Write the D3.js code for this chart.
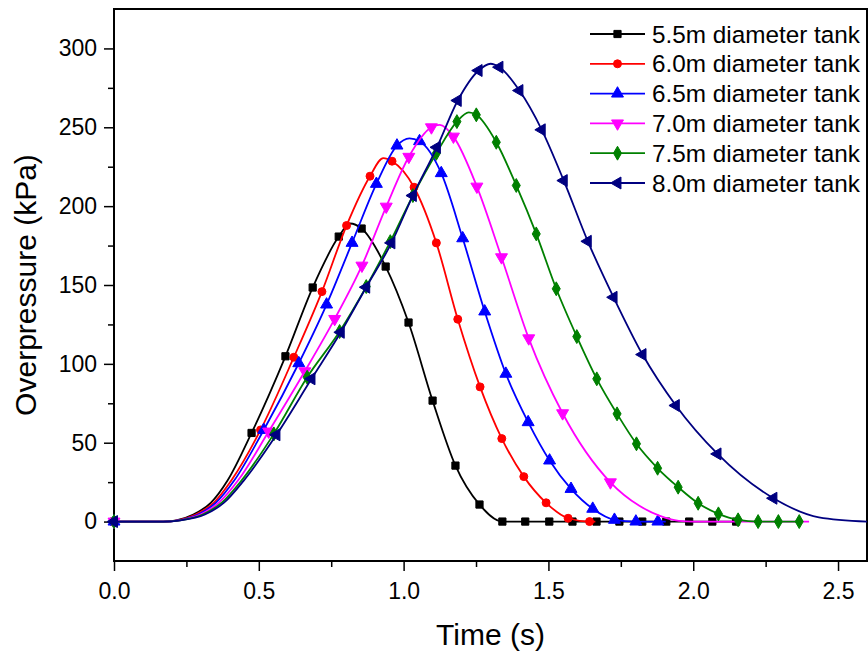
<!DOCTYPE html>
<html>
<head>
<meta charset="utf-8">
<script src="https://cdn.jsdelivr.net/npm/d3@7"></script>
<style>
  body { margin: 0; background: #fff; }
  text { font-family: Arial, "Liberation Sans", sans-serif; fill: #000; }
</style>
</head>
<body>
<svg id="chart" width="868" height="654"></svg>
<script>
// Datos: tiempo (s) y sobrepresión (kPa) en cada marcador
const t55 = [0, 0.475, 0.592, 0.686, 0.776, 0.855, 0.938, 1.017, 1.100, 1.179, 1.262, 1.341, 1.420, 1.503, 1.583, 1.666, 1.745, 1.824, 1.907, 1.986, 2.066, 2.148];
const p55 = [0, 56.2, 104.8, 148.4, 180.7, 185.8, 161.7, 126.2, 76.7, 35.5, 10.8, 0, 0, 0, 0, 0, 0, 0, 0, 0, 0, 0];
const t60 = [0, 0.506, 0.621, 0.718, 0.803, 0.884, 0.960, 1.036, 1.113, 1.187, 1.264, 1.339, 1.415, 1.492, 1.568, 1.642];
const p60 = [0, 58.1, 104.2, 145.8, 187.7, 219, 228.5, 212, 176.7, 128.3, 85.4, 52.6, 28.5, 11.9, 2.1, 0];
const t65 = [0, 0.517, 0.638, 0.734, 0.822, 0.906, 0.977, 1.055, 1.130, 1.204, 1.280, 1.353, 1.430, 1.504, 1.578, 1.653, 1.728, 1.802, 1.878];
const p65 = [0, 58.1, 100.4, 137.6, 176.7, 214.1, 238.4, 241.2, 220.9, 179.6, 133.2, 93.7, 63, 38.7, 20.7, 8.1, 1.1, 0, 0];
const t70 = [0, 0.534, 0.659, 0.762, 0.856, 0.940, 1.018, 1.096, 1.172, 1.253, 1.338, 1.432, 1.549, 1.714];
const p70 = [0, 57.1, 95.3, 128.5, 162.3, 199.7, 231.3, 250, 244.1, 212.4, 167.6, 116.2, 68.7, 24.9];
const t75 = [0, 0.552, 0.667, 0.779, 0.871, 0.954, 1.032, 1.113, 1.184, 1.251, 1.320, 1.389, 1.458, 1.527, 1.598, 1.667, 1.737, 1.804, 1.877, 1.948, 2.017, 2.087, 2.155, 2.224, 2.294, 2.366];
const p75 = [0, 55.6, 91.5, 120.5, 149, 177.5, 206.7, 233.5, 253.6, 257.9, 240.5, 213.1, 182.4, 147.6, 117.3, 90.5, 68.3, 49.3, 33.8, 21.8, 11.6, 4.9, 1.1, 0, 0, 0];
const t80 = [0, 0.561, 0.682, 0.783, 0.871, 0.958, 1.032, 1.115, 1.187, 1.259, 1.331, 1.400, 1.477, 1.553, 1.636, 1.725, 1.825, 1.940, 2.084, 2.277];
const p80 = [0, 55, 90.5, 120, 148.6, 176.7, 206.7, 237.3, 267, 286, 288.1, 273.3, 248.4, 216.2, 177.7, 142.2, 105.9, 73.6, 42.9, 14.8];

// Puntos extra de la curva (sin marcador): arranque, pico y cola
const curva55 = [[0.17, 0], [0.215, 0.8], [0.274, 4.5], [0.335, 12], [0.392, 26], [0.815, 189]];
const curva60 = [[0.17, 0], [0.22, 0.8], [0.282, 4.5], [0.345, 12], [0.405, 26], [0.93, 230.5], [1.662, 0]];
const curva65 = [[0.17, 0], [0.222, 0.8], [0.29, 4.5], [0.352, 12], [0.415, 26], [1.02, 243], [1.905, 0]];
const curva70 = [[0.17, 0], [0.225, 0.8], [0.298, 4.5], [0.362, 12], [0.428, 26], [1.125, 251.5], [1.814, 10], [1.883, 3.8], [1.95, 0.5], [2.0, 0], [2.40, 0]];
const curva75 = [[0.17, 0], [0.228, 0.8], [0.306, 4.5], [0.372, 12], [0.44, 26], [1.225, 259.5]];
const curva80 = [[0.17, 0], [0.23, 0.8], [0.314, 4.5], [0.38, 12], [0.448, 26], [1.30, 290.3], [2.434, 2.7], [2.6, 0]];

const nombres = ["5.5m diameter tank", "6.0m diameter tank", "6.5m diameter tank",
                 "7.0m diameter tank", "7.5m diameter tank", "8.0m diameter tank"];
const colores = ["#000000", "#ff0000", "#0000ff", "#ff00ff", "#008000", "#000080"];

const yTicks = [0, 50, 100, 150, 200, 250, 300];
const xTicks = [0, 0.5, 1.0, 1.5, 2.0, 2.5];

// Símbolos: cuadrado, círculo, triángulo arriba/abajo, rombo, triángulo izquierda
const formas = [
  { tipo: d3.symbolSquare, tam: 52, rot: 0 },
  { tipo: d3.symbolCircle, tam: 50, rot: 0 },
  { tipo: d3.symbolTriangle, tam: 62, rot: 0 },
  { tipo: d3.symbolTriangle, tam: 62, rot: 180 },
  { tipo: d3.symbolDiamond, tam: 56, rot: 0 },
  { tipo: d3.symbolTriangle, tam: 62, rot: -90 }
];

const series = [
  [t55, p55, curva55], [t60, p60, curva60], [t65, p65, curva65],
  [t70, p70, curva70], [t75, p75, curva75], [t80, p80, curva80]
].map(([t, p, extra], i) => {
  const marcas = t.map((d, j) => [d, p[j]]);
  const linea = marcas.concat(extra).sort((a, b) => a[0] - b[0]);
  return { nombre: nombres[i], color: colores[i], forma: formas[i], marcas, linea };
});

const svg = d3.select("#chart");

// Escalas
const x = d3.scaleLinear().domain([0, 2.6]).range([114, 867]);
const y = d3.scaleLinear().domain([-25, 325]).range([561, 9]);

// Ejes menores
svg.append("g")
    .attr("transform", `translate(0, ${y(-25)})`)
    .call(d3.axisBottom(x).tickValues([0.25, 0.75, 1.25, 1.75, 2.25]).tickSize(6).tickSizeOuter(0).tickFormat(""))
    .call(g => g.select(".domain").remove())
    .call(g => g.selectAll("line").attr("stroke-width", 1.5));

svg.append("g")
    .attr("transform", `translate(${x(0)}, 0)`)
    .call(d3.axisLeft(y).tickValues([25, 75, 125, 175, 225, 275]).tickSize(6).tickSizeOuter(0).tickFormat(""))
    .call(g => g.select(".domain").remove())
    .call(g => g.selectAll("line").attr("stroke-width", 1.5));

// Ejes principales
svg.append("g")
    .attr("transform", `translate(0, ${y(-25)})`)
    .call(d3.axisBottom(x).tickValues(xTicks).tickSize(10).tickPadding(12).tickSizeOuter(0).tickFormat(d3.format(".1f")))
    .call(g => g.select(".domain").remove())
    .call(g => g.selectAll("line").attr("stroke-width", 1.5))
    .call(g => g.selectAll("text").attr("font-size", 23).attr("font-family", "Arial, 'Liberation Sans', sans-serif").attr("fill", "#000"));

svg.append("g")
    .attr("transform", `translate(${x(0)}, 0)`)
    .call(d3.axisLeft(y).tickValues(yTicks).tickSize(10).tickPadding(7).tickSizeOuter(0).tickFormat(d3.format("d")))
    .call(g => g.select(".domain").remove())
    .call(g => g.selectAll("line").attr("stroke-width", 1.5))
    .call(g => g.selectAll("text").attr("font-size", 23).attr("font-family", "Arial, 'Liberation Sans', sans-serif").attr("fill", "#000"));

// Marco del gráfico
svg.append("rect")
    .attr("x", x(0))
    .attr("y", y(325))
    .attr("width", x(2.6) - x(0))
    .attr("height", y(-25) - y(325))
    .attr("fill", "none")
    .attr("stroke", "#000")
    .attr("stroke-width", 2);

// Títulos de los ejes
svg.append("text")
    .attr("x", (x(0) + x(2.6)) / 2)
    .attr("y", 645)
    .attr("text-anchor", "middle")
    .attr("font-size", 30)
    .text("Time (s)");

svg.append("text")
    .attr("transform", `translate(36, ${(y(-25) + y(325)) / 2}) rotate(-90)`)
    .attr("text-anchor", "middle")
    .attr("font-size", 30)
    .text("Overpressure (kPa)");

// Líneas y marcadores
const line = d3.line()
    .x(d => x(d[0]))
    .y(d => y(d[1]))
    .curve(d3.curveMonotoneX);

const plot = svg.append("g");

series.forEach(s => {
  const g = plot.append("g");
  g.append("path")
      .datum(s.linea)
      .attr("fill", "none")
      .attr("stroke", s.color)
      .attr("stroke-width", 1.8)
      .attr("d", line);

  const sym = d3.symbol().type(s.forma.tipo).size(s.forma.tam);
  g.selectAll("path.mk")
    .data(s.marcas)
    .join("path")
      .attr("class", "mk")
      .attr("d", sym)
      .attr("transform", d => `translate(${x(d[0])}, ${y(d[1])}) rotate(${s.forma.rot})`)
      .attr("fill", s.color)
      .attr("stroke", s.color)
      .attr("stroke-width", 1);
});

// Leyenda
const legend = svg.append("g").attr("transform", "translate(590, 34)");

series.forEach((s, i) => {
  const row = legend.append("g").attr("transform", `translate(0, ${i * 29.8})`);
  row.append("line")
      .attr("x1", 0).attr("x2", 55)
      .attr("y1", 0).attr("y2", 0)
      .attr("stroke", s.color)
      .attr("stroke-width", 1.8);
  row.append("path")
      .attr("d", d3.symbol().type(s.forma.tipo).size(s.forma.tam)())
      .attr("transform", `translate(27.5, 0) rotate(${s.forma.rot})`)
      .attr("fill", s.color)
      .attr("stroke", s.color);
  row.append("text")
      .attr("x", 62)
      .attr("y", 8.5)
      .attr("font-size", 24.3)
      .text(s.nombre);
});
</script>
</body>
</html>
